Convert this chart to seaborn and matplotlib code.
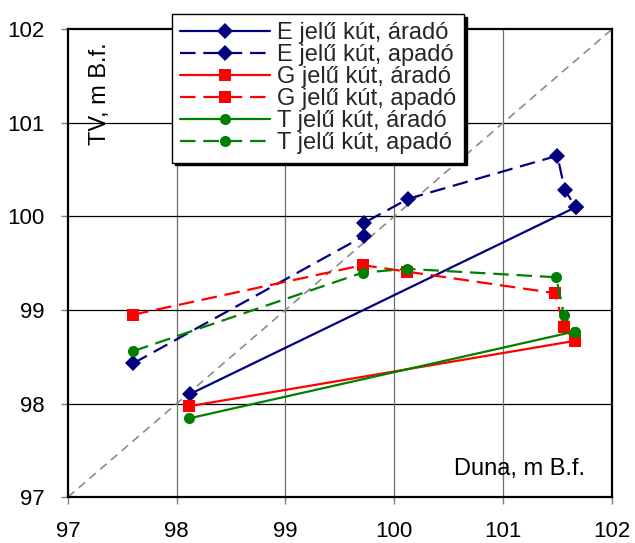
import matplotlib
matplotlib.use("Agg")
import matplotlib.pyplot as plt
import seaborn as sns

# ---- data ----
series_labels = ["E jelű kút, áradó", "E jelű kút, apadó",
                 "G jelű kút, áradó", "G jelű kút, apadó",
                 "T jelű kút, áradó", "T jelű kút, apadó"]

e_arado_x = [98.12, 101.67]
e_arado_y = [98.10, 100.10]
e_apado_x = [97.60, 99.72, 99.72, 100.13, 101.50, 101.57, 101.67]
e_apado_y = [98.43, 99.79, 99.93, 100.19, 100.65, 100.28, 100.10]

g_arado_x = [98.11, 101.66]
g_arado_y = [97.97, 98.67]
g_apado_x = [97.60, 99.71, 100.12, 101.48, 101.56, 101.66]
g_apado_y = [98.95, 99.48, 99.41, 99.18, 98.82, 98.67]

t_arado_x = [98.11, 101.66]
t_arado_y = [97.84, 98.77]
t_apado_x = [97.60, 99.71, 100.12, 101.49, 101.56, 101.66]
t_apado_y = [98.56, 99.40, 99.44, 99.35, 98.95, 98.77]

diag_x = [97, 102]
diag_y = [97, 102]

ticks = [97, 98, 99, 100, 101, 102]
x_label = "Duna, m B.f."
y_label = "TV, m B.f."

# ---- style ----
sns.set_theme(style="white")
plt.rcParams['font.family'] = ['Liberation Sans', 'DejaVu Sans']

fig = plt.figure(figsize=(6.35, 5.43), dpi=100)
ax = fig.add_axes([0.1071, 0.0847, 0.8562, 0.861])

# diagonal reference line
sns.lineplot(x=diag_x, y=diag_y, ax=ax, sort=False, estimator=None,
             color="#8c8c8c", linewidth=1.2, linestyle=(0, (5, 3.5)), zorder=2)

dash = (0, (7, 3.5))
specs = [
    (e_arado_x, e_arado_y, "#000080", "D", 8.5, "-", series_labels[0]),
    (e_apado_x, e_apado_y, "#000080", "D", 8.5, dash, series_labels[1]),
    (g_arado_x, g_arado_y, "#ff0000", "s", 8, "-", series_labels[2]),
    (g_apado_x, g_apado_y, "#ff0000", "s", 8, dash, series_labels[3]),
    (t_arado_x, t_arado_y, "#008000", "o", 8, "-", series_labels[4]),
    (t_apado_x, t_apado_y, "#008000", "o", 8, dash, series_labels[5]),
]
for xs, ys, col, mk, ms, ls, lab in specs:
    sns.lineplot(x=xs, y=ys, ax=ax, sort=False, estimator=None, color=col,
                 marker=mk, markersize=ms, markeredgewidth=0, linewidth=1.6,
                 linestyle=ls, label=lab, zorder=3)

ax.set_xlim(97, 102)
ax.set_ylim(97, 102)
ax.set_xticks(ticks)
ax.set_yticks(ticks)
ax.set_xticklabels([str(t) for t in ticks])
ax.set_yticklabels([str(t) for t in ticks])
ax.set_xlabel("")
ax.set_ylabel("")

# grid
for t in ticks[1:-1]:
    ax.axhline(t, color="#000000", linewidth=0.9, zorder=1)
    ax.axvline(t, color="#6e6e6e", linewidth=0.9, zorder=1)

for sp in ax.spines.values():
    sp.set_color("black")
    sp.set_linewidth(1.6)
    sp.set_visible(True)

ax.tick_params(axis='both', which='major', direction='out', length=5,
               width=1, color='#808080', labelsize=16, labelcolor='black')
ax.tick_params(axis='x', pad=12.5)
ax.tick_params(axis='y', pad=12)
ax.tick_params(bottom=True, left=True)

# inner axis captions
ax.text(0.059, 0.972, y_label, transform=ax.transAxes, rotation=90,
        ha='center', va='top', fontsize=17, color='black')
ax.text(0.951, 0.06, x_label, transform=ax.transAxes,
        ha='right', va='center', fontsize=17, color='black')

leg = ax.legend(loc='upper left', bbox_to_anchor=(172 / 635, 1 - 14 / 543),
                bbox_transform=fig.transFigure, fontsize=17, frameon=True,
                fancybox=False, shadow={'color': 'black', 'alpha': 1},
                edgecolor='black', framealpha=1, borderpad=0.35,
                labelspacing=0.0, handlelength=3.8, handletextpad=0.3,
                borderaxespad=0, numpoints=1)
leg.get_frame().set_linewidth(1.0)
leg.set_zorder(10)

fig.savefig("out.png", dpi=100)
